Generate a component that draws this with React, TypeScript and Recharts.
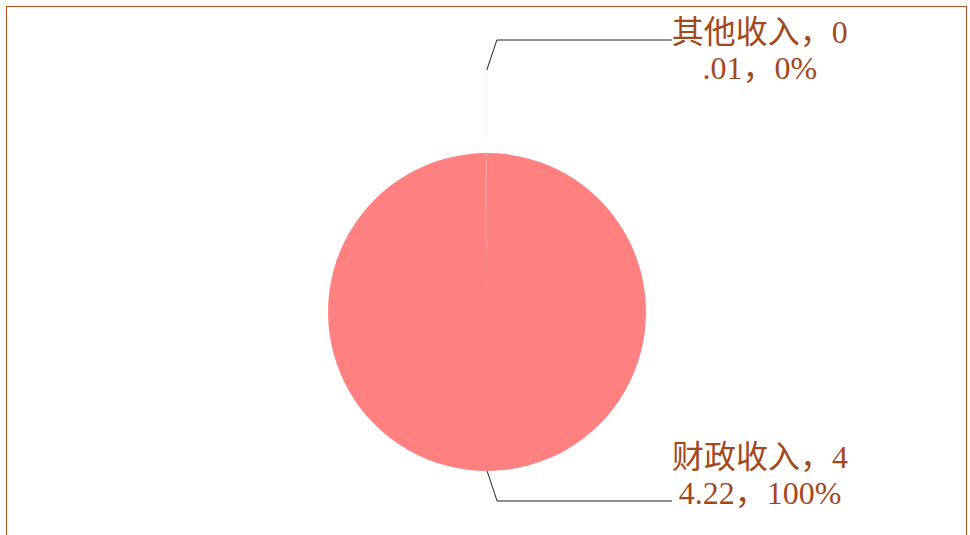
import { PieChart, Pie, Cell } from 'recharts';

// 收入构成
const names = ['财政收入', '其他收入'];
const values = [44.22, 0.01];
const colors = ['#FF8080', '#FF8080'];
const sliverColors = ['none', '#D6E2D6'];

const data = names.map((name, i) => ({ name, value: values[i] }));

const RAD = Math.PI / 180;
const textColor = '#A2481C';
const fontFamily = "'Liberation Serif', 'DejaVu Serif', 'Noto Sans CJK SC', serif";

// 标签：引导线 + 两行文字（每行6个字符）
const makeLabel = (target: string) => (props: any) => {
  const { cx, cy, midAngle, outerRadius, percent, name, value } = props;
  if (name !== target) return null;
  const sin = Math.sin(-midAngle * RAD);
  const cos = Math.cos(-midAngle * RAD);
  const sx = cx + outerRadius * cos;
  const sy = cy + outerRadius * sin;
  const up = sin < 0;
  const ex = sx + 10;
  const ey = sy + (up ? -30 : 30);
  const hx = ex + 175;
  const text = `${name}，${value}，${Math.round(percent * 100)}%`;
  const lines = [text.slice(0, 6), text.slice(6)];
  const tx = hx + 88;
  const y1 = up ? ey + 3 : ey - 33;
  return (
    <g>
      <polyline points={`${sx},${sy} ${ex},${ey} ${hx},${ey}`} fill="none" stroke="#222" strokeWidth={1} />
      <text x={tx} y={y1} textAnchor="middle" fill={textColor} fontSize={32} fontFamily={fontFamily}>
        {lines[0]}
      </text>
      <text x={tx} y={y1 + 36} textAnchor="middle" fill={textColor} fontSize={32} fontFamily={fontFamily}>
        {lines[1]}
      </text>
    </g>
  );
};

export default function App() {
  return (
    <div style={{ position: 'fixed', left: 0, top: 0, width: 970, height: 535, background: '#fff', overflow: 'hidden' }}>
      <div
        style={{
          position: 'absolute',
          left: 6,
          top: 6,
          width: 961,
          height: 560,
          border: '1.5px solid #B0521E',
          boxSizing: 'border-box',
        }}
      />
      <div style={{ position: 'absolute', left: 0, top: 0 }}>
        <PieChart width={970} height={535} margin={{ top: 0, right: 0, bottom: 0, left: 0 }}>
          <Pie
            data={data}
            dataKey="value"
            nameKey="name"
            cx={487}
            cy={312}
            outerRadius={159}
            startAngle={90}
            endAngle={-270}
            stroke="none"
            labelLine={false}
            label={makeLabel('财政收入')}
            isAnimationActive={false}
          >
            {data.map((d, i) => (
              <Cell key={d.name} fill={colors[i]} />
            ))}
          </Pie>
          <Pie
            data={data}
            dataKey="value"
            nameKey="name"
            cx={487}
            cy={312}
            innerRadius={42}
            outerRadius={242}
            startAngle={90}
            endAngle={-270}
            stroke="none"
            labelLine={false}
            label={makeLabel('其他收入')}
            isAnimationActive={false}
          >
            {data.map((d, i) => (
              <Cell key={d.name} fill={sliverColors[i]} />
            ))}
          </Pie>
        </PieChart>
      </div>
    </div>
  );
}
